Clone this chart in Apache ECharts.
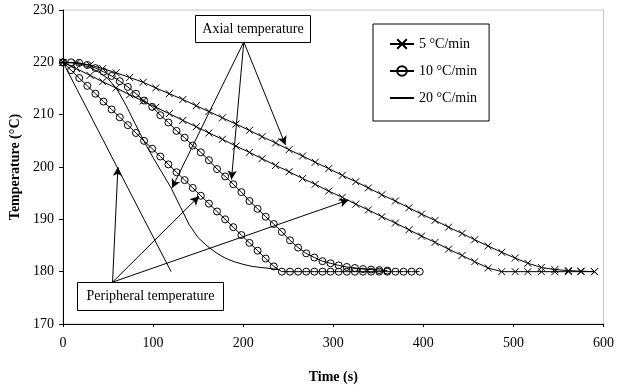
<!DOCTYPE html>
<html>
<head>
<meta charset="utf-8">
<script src="https://cdn.jsdelivr.net/npm/echarts@6/dist/echarts.min.js"></script>
<style>
html,body{margin:0;padding:0;background:#fff;}
#c{width:617px;height:389px;}
</style>
</head>
<body>
<div id="c"></div>
<script>
// ---- Data ----
var xTicks = [0, 100, 200, 300, 400, 500, 600];
var yTicks = [170, 180, 190, 200, 210, 220, 230];
var seriesNames = ['5 °C/min', '10 °C/min', '20 °C/min'];

// 5 °C/min — time (s)
var t5 = [0,15,30,44,59,74,89,103,118,133,148,162,177,192,207,221,236,251,266,280,295,310,325,339,354,369,384,398,413,428,443,457,472,487,502,516,531,546,561,575,590];
// 5 °C/min peripheral temperature
var periph5 = [220.0,218.8,217.5,216.3,215.1,213.8,212.6,211.4,210.2,208.9,207.7,206.5,205.3,204.0,202.8,201.6,200.3,199.1,197.8,196.7,195.4,194.2,192.9,191.8,190.5,189.3,188.0,186.8,185.6,184.3,183.1,181.9,180.7,180.0,180.0,180.0,180.0,180.0,180.0,180.0,180.0];
// 5 °C/min axial temperature
var axial5 = [220.0,219.9,219.5,218.8,218.0,217.1,216.2,215.1,214.0,212.9,211.7,210.6,209.4,208.2,207.0,205.8,204.6,203.3,202.1,200.9,199.7,198.4,197.2,196.0,194.7,193.5,192.2,191.0,189.8,188.5,187.3,186.1,184.9,183.7,182.6,181.6,180.8,180.4,180.2,180.1,180.0];

// 10 °C/min — time (s)
var t10 = [0,9,18,27,36,45,54,63,72,81,90,99,108,117,126,135,144,153,162,171,180,189,198,207,216,225,234,243,252,261,270,279,288,297,306,315,324,333,342,351,360,369,378,387,396];
var periph10 = [220.0,218.5,217.0,215.5,214.0,212.5,211.0,209.5,208.0,206.5,205.0,203.5,202.0,200.5,199.0,197.5,196.0,194.5,193.0,191.5,190.0,188.5,187.0,185.5,184.0,182.5,181.0,180.0,180.0,180.0,180.0,180.0,180.0,180.0,180.0,180.0,180.0,180.0,180.0,180.0,180.0,180.0,180.0,180.0,180.0];
var axial10 = [220.0,220.0,219.9,219.5,218.9,218.2,217.4,216.4,215.3,214.0,212.7,211.5,209.9,208.5,206.9,205.6,204.1,202.8,201.3,199.6,198.2,196.7,195.2,193.5,192.0,190.5,189.1,187.6,186.0,184.6,183.5,182.7,182.0,181.6,181.2,180.9,180.7,180.5,180.4,180.3,180.2];

// 20 °C/min
var t20p = [0, 30, 60, 90, 120];
var periph20 = [220.0, 210.0, 200.0, 190.0, 180.0];
var t20a = [0,10,20,30,40,50,60,70,80,90,100,110,120,130,140,150,160,170,180,190,200,210,220,230,240];
var axial20 = [220.0,219.9,219.6,219.0,218.1,216.9,214.8,211.8,208.3,204.9,201.8,198.9,196.0,192.5,189.0,186.5,184.9,183.6,182.6,181.9,181.4,181.0,180.8,180.6,180.4];

// Annotation arrows (data coordinates): [from, to]
var axialLabel = 'Axial temperature';
var peripheralLabel = 'Peripheral temperature';
var axialFrom = [200.7, 223.9];
var axialTargets = [[121, 196.0], [187, 197.6], [247, 204.2]];
var periphFrom = [55, 178.0];
var periphTargets = [[61, 200.0], [151, 194.4], [317, 193.7]];

function pairs(xs, ys) {
  var out = [];
  for (var i = 0; i < ys.length; i++) out.push([xs[i], ys[i]]);
  return out;
}

var FONT = 'Liberation Serif';
var crossPath = 'path://M0,0L10,10M10,0L0,10';

function xSeries(name, data) {
  return {
    name: name, type: 'line', data: data,
    symbol: crossPath, symbolSize: 7, showAllSymbol: true,
    lineStyle: {color: '#000', width: 1},
    itemStyle: {color: '#000', borderColor: '#000', borderWidth: 1},
    emphasis: {disabled: true}
  };
}
function oSeries(name, data) {
  return {
    name: name, type: 'line', data: data,
    symbol: 'circle', symbolSize: 7, showAllSymbol: true,
    lineStyle: {color: '#000', width: 1},
    itemStyle: {color: 'rgba(0,0,0,0)', borderColor: '#000', borderWidth: 1},
    emphasis: {disabled: true}
  };
}
function plainSeries(name, data) {
  return {
    name: name, type: 'line', data: data,
    symbol: 'none', showSymbol: false,
    lineStyle: {color: '#000', width: 1},
    itemStyle: {color: 'rgba(0,0,0,0)', borderWidth: 0},
    emphasis: {disabled: true}
  };
}

var arrowData = [];
axialTargets.forEach(function (p) { arrowData.push([{coord: axialFrom}, {coord: p}]); });
periphTargets.forEach(function (p) { arrowData.push([{coord: periphFrom}, {coord: p}]); });

var arrowSeries = {
  name: 'arrows', type: 'line', data: [], silent: true,
  markLine: {
    silent: true, animation: false,
    symbol: ['none', 'arrow'], symbolSize: [7, 9],
    label: {show: false},
    lineStyle: {color: '#000', width: 1, type: 'solid'},
    emphasis: {disabled: true},
    data: arrowData
  }
};

var chart = echarts.init(document.getElementById('c'), null, {renderer: 'canvas'});
chart.setOption({
  animation: false,
  backgroundColor: '#fff',
  grid: {left: 63, right: 10, top: 10, bottom: 65, show: true,
         borderColor: '#c4c4c4', borderWidth: 1, backgroundColor: 'rgba(0,0,0,0)'},
  xAxis: {
    type: 'value', min: xTicks[0], max: xTicks[xTicks.length - 1], interval: 100,
    name: 'Time (s)', nameLocation: 'middle', nameGap: 46,
    nameTextStyle: {fontFamily: FONT, fontWeight: 'bold', fontSize: 14, color: '#000'},
    axisLine: {lineStyle: {color: '#000', width: 1}},
    axisTick: {show: true, length: 3, lineStyle: {color: '#000'}},
    axisLabel: {fontFamily: FONT, fontSize: 14, color: '#000', margin: 12},
    splitLine: {show: false}
  },
  yAxis: {
    type: 'value', min: yTicks[0], max: yTicks[yTicks.length - 1], interval: 10,
    name: 'Temperature (°C)', nameLocation: 'middle', nameGap: 35,
    nameTextStyle: {fontFamily: FONT, fontWeight: 'bold', fontSize: 14, color: '#000'},
    axisLine: {show: true, lineStyle: {color: '#000', width: 1}},
    axisTick: {show: true, length: 4, lineStyle: {color: '#000'}},
    axisLabel: {fontFamily: FONT, fontSize: 14, color: '#000', margin: 9},
    splitLine: {show: false}
  },
  legend: {
    data: seriesNames,
    orient: 'vertical', left: 373, top: 24,
    padding: [13, 12, 16, 16],
    itemGap: 13, itemWidth: 24, itemHeight: 12,
    backgroundColor: '#fff', borderColor: '#000', borderWidth: 1,
    textStyle: {fontFamily: FONT, fontSize: 14, color: '#000'},
    selectedMode: false
  },
  graphic: [
    {type: 'group', left: 195, top: 15, children: [
      {type: 'rect', shape: {x: 0, y: 0, width: 115, height: 27},
       style: {fill: '#fff', stroke: '#000', lineWidth: 1}},
      {type: 'text', x: 57.5, y: 13.5,
       style: {text: axialLabel, font: '14px "Liberation Serif"', fill: '#000',
               textAlign: 'center', textVerticalAlign: 'middle'}}
    ]},
    {type: 'group', left: 77, top: 282, children: [
      {type: 'rect', shape: {x: 0, y: 0, width: 146, height: 28},
       style: {fill: '#fff', stroke: '#000', lineWidth: 1}},
      {type: 'text', x: 73, y: 14,
       style: {text: peripheralLabel, font: '14px "Liberation Serif"', fill: '#000',
               textAlign: 'center', textVerticalAlign: 'middle'}}
    ]}
  ],
  series: [
    xSeries(seriesNames[0], pairs(t5, axial5)),
    xSeries(seriesNames[0], pairs(t5, periph5)),
    oSeries(seriesNames[1], pairs(t10, axial10)),
    oSeries(seriesNames[1], pairs(t10, periph10)),
    plainSeries(seriesNames[2], pairs(t20a, axial20)),
    plainSeries(seriesNames[2], pairs(t20p, periph20)),
    arrowSeries
  ]
});
</script>
</body>
</html>
